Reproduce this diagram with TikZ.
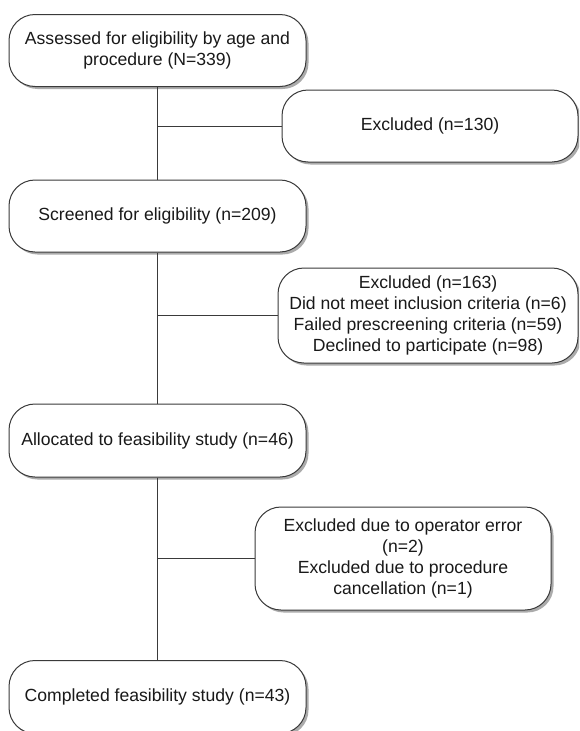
\documentclass[tikz,border=0pt]{standalone}
\usepackage{fontspec}
\setmainfont{Liberation Sans}
\usetikzlibrary{shadows}
\definecolor{edge}{HTML}{3A3A3A}
\tikzset{
  box/.style={draw=edge, line width=1pt, rounded corners=26pt, fill=white,
    drop shadow={shadow xshift=2.5pt, shadow yshift=-2.5pt, opacity=0.55, fill=black!60},
    align=center, inner sep=0pt, font=\fontsize{17.6}{21}\selectfont, text=black!90},
  link/.style={draw=edge, line width=1pt}
}
\begin{document}
\begin{tikzpicture}[x=1pt,y=-1pt]
\useasboundingbox (0,0) rectangle (579,731);
\clip (0,0) rectangle (579,731);
\node[box, minimum width=297pt, minimum height=72pt] (a) at (157.5,50.5) {Assessed for eligibility by age and\\procedure (N=339)};
\node[box, minimum width=296pt, minimum height=72pt] (b) at (430,126) {Excluded (n=130)};
\node[box, minimum width=297pt, minimum height=72pt] (c) at (157.5,216) {Screened for eligibility (n=209)};
\node[box, minimum width=300pt, minimum height=95pt] (d) at (428,315.5) {Excluded (n=163)\\Did not meet inclusion criteria (n=6)\\Failed prescreening criteria (n=59)\\Declined to participate (n=98)};
\node[box, minimum width=297pt, minimum height=73pt] (e) at (157.5,440.5) {Allocated to feasibility study (n=46)};
\node[box, minimum width=296pt, minimum height=103pt] (f) at (403,558.5) {Excluded due to operator error\\(n=2)\\Excluded due to procedure\\cancellation (n=1)};
\node[box, minimum width=297pt, minimum height=73pt] (g) at (157.5,697) {Completed feasibility study (n=43)};
\draw[link] (a.south) -- (c.north);
\draw[link] (c.south) -- (e.north);
\draw[link] (e.south) -- (g.north);
\coordinate (jb) at (a.south |- b.west);
\coordinate (jd) at (a.south |- d.west);
\coordinate (jf) at (a.south |- f.west);
\draw[link] (jb) -- (b.west);
\draw[link] (jd) -- (d.west);
\draw[link] (jf) -- (f.west);
\end{tikzpicture}
\end{document}
